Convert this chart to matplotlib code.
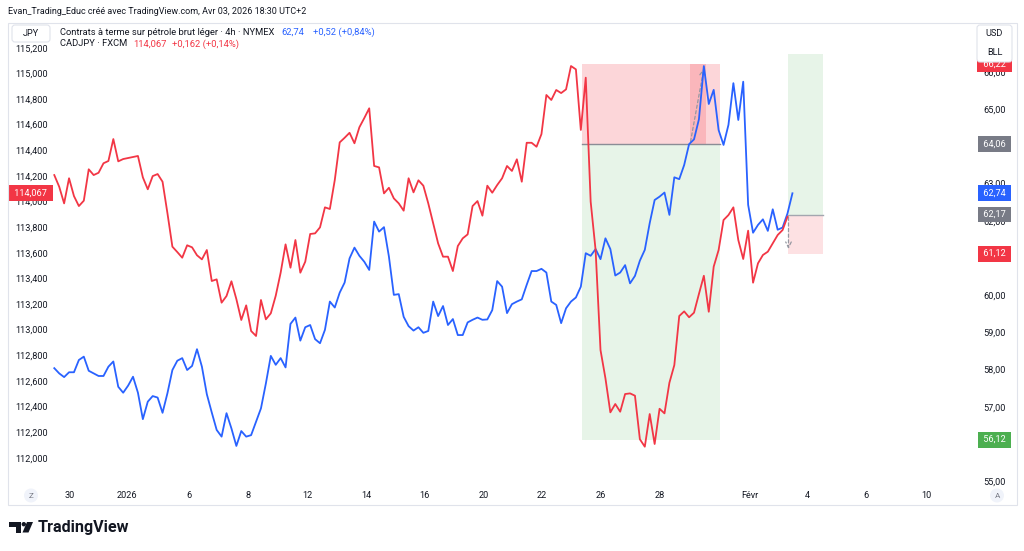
import numpy as np
import matplotlib
matplotlib.use("Agg")
import matplotlib.pyplot as plt
from matplotlib.patches import Rectangle, FancyBboxPatch, Circle, Polygon
import matplotlib.transforms as mtransforms

plt.rcParams['font.family'] = ['Roboto', 'DejaVu Sans']

# ---------------- data ----------------
# CADJPY (FXCM), 4h bars, left scale
cadjpy = [114.206, 114.115, 113.985, 114.181, 114.042, 113.964, 114.006, 114.251, 114.206, 114.224,
          114.298, 114.316, 114.487, 114.313, 114.331, 114.339, 114.347, 114.355, 114.188, 114.095,
          114.198, 114.214, 114.154, 113.907, 113.647, 113.605, 113.561, 113.658, 113.642, 113.580,
          113.548, 113.621, 113.379, 113.392, 113.210, 113.262, 113.377, 113.238, 113.075, 113.189,
          112.989, 112.950, 113.231, 113.080, 113.127, 113.264, 113.444, 113.665, 113.483, 113.699,
          113.444, 113.530, 113.746, 113.751, 113.798, 113.954, 113.941, 114.167, 114.461, 114.497,
          114.536, 114.454, 114.579, 114.651, 114.727, 114.277, 114.266, 114.063, 114.107, 114.024,
          113.985, 113.928, 114.181, 114.071, 114.165, 114.123, 113.985, 113.829, 113.673, 113.569,
          113.569, 113.457, 113.652, 113.712, 113.743, 113.964, 114.003, 113.889, 114.123, 114.068,
          114.128, 114.181, 114.277, 114.238, 114.329, 114.154, 114.458, 114.458, 114.427, 114.526,
          114.831, 114.792, 114.870, 114.846, 114.875, 115.057, 115.031, 114.558, 114.966, 113.998,
          113.621, 112.840, 112.620, 112.354, 112.419, 112.359, 112.497, 112.502, 112.484, 112.144,
          112.086, 112.341, 112.107, 112.382, 112.346, 112.585, 112.723, 113.106, 113.142, 113.096,
          113.132, 113.278, 113.420, 113.139, 113.491, 113.621, 113.855, 113.894, 113.954, 113.699,
          113.551, 113.772, 113.366, 113.517, 113.582, 113.608, 113.673, 113.738, 113.777, 113.881]

# Light crude oil futures (NYMEX), 4h bars, right scale
oil = [58.04, 57.90, 57.80, 57.93, 57.93, 58.26, 58.35, 57.97, 57.90, 57.83,
       57.83, 58.08, 58.22, 57.54, 57.38, 57.57, 57.81, 57.38, 56.67, 57.14,
       57.29, 57.25, 56.84, 57.37, 57.99, 58.24, 58.31, 57.99, 58.10, 58.55,
       58.08, 57.34, 56.85, 56.38, 56.20, 56.83, 56.42, 55.95, 56.35, 56.20,
       56.24, 56.60, 56.96, 57.63, 58.37, 58.13, 58.31, 58.06, 59.23, 59.40,
       58.78, 59.14, 59.20, 58.82, 58.71, 59.07, 59.83, 59.67, 60.07, 60.34,
       60.99, 61.28, 61.06, 60.90, 60.68, 61.98, 61.71, 61.83, 61.04, 60.01,
       60.03, 59.42, 59.17, 59.05, 59.14, 58.99, 59.04, 59.83, 59.44, 59.71,
       59.20, 59.36, 58.93, 58.93, 59.27, 59.34, 59.40, 59.34, 59.35, 59.60,
       60.38, 60.23, 59.52, 59.76, 59.83, 59.89, 60.28, 60.65, 60.65, 60.71,
       60.61, 59.83, 59.74, 59.25, 59.65, 59.83, 59.94, 60.23, 61.13, 61.06,
       61.24, 60.97, 61.53, 61.24, 60.53, 60.61, 60.81, 60.32, 60.52, 60.93,
       61.22, 61.94, 62.56, 62.65, 62.76, 62.16, 63.17, 63.12, 63.50, 64.06,
       64.19, 64.73, 66.16, 65.14, 65.52, 64.44, 64.04, 64.58, 65.70, 64.71,
       65.74, 62.43, 61.68, 61.89, 62.04, 61.73, 62.31, 61.76, 61.82, 62.20,
       62.74]

# time axis labels (bar index positions)
tick_pos = [3.2, 14.8, 27.4, 39.4, 51.4, 63.4, 75.3, 87.3, 99.1, 111.1, 123.1, 141.4, 153.0, 165.0, 177.2]
tick_lbl = ['30', '2026', '6', '8', '12', '14', '16', '20', '22', '26', '28', 'Févr', '4', '6', '10']

# price scale ticks (labels hidden behind price tags are not shown)
left_ticks = [112.0, 112.2, 112.4, 112.6, 112.8, 113.0, 113.2, 113.4, 113.6, 113.8,
              114.0, 114.2, 114.4, 114.6, 114.8, 115.0, 115.2]
right_ticks = [55, 57, 58, 59, 60, 62, 63, 65, 66]

# short position tool (oil scale): start bar, end bar / stop, entry, target
short_bars = [107.3, 135.3]
short_levels = [66.22, 64.06, 56.12]
short_fill_bars = [129.2, 132.4]
# long position tool: start bar, end bar / target, entry, stop
long_bars = [149.2, 156.3]
long_levels = [66.49, 62.17, 61.12]

# price tags on the right scale
rtag_vals = [66.22, 64.06, 62.74, 62.17, 61.12, 56.12]
rtag_cols = ['#F23645', '#787B86', '#2962FF', '#787B86', '#F23645', '#4CAF50']
ltag_val = 114.067

# legend texts
oil_name = 'Contrats à terme sur pétrole brut léger · 4h · NYMEX'
oil_change = '+0,52 (+0,84%)'
cad_name = 'CADJPY · FXCM'
cad_change = '+0,162 (+0,14%)'

RED = '#F23645'
BLUE = '#2962FF'
TXT = '#131722'
FS = 6.6
LFS = 6.75

def fr(v, d):
    return f"{v:.{d}f}".replace('.', ',')

# ---------------- figure ----------------
W, H = 1024, 551
fig = plt.figure(figsize=(W / 100, H / 100), dpi=100)
fig.patch.set_facecolor('white')

L, R, T, B = 53, 975, 24, 485
ax = fig.add_axes([L / W, (H - B) / H, (R - L) / W, (B - T) / H])
ax2 = ax.twinx()

xs_oil = np.arange(len(oil))
xs_cad = np.arange(len(cadjpy))

ax.set_xlim(-0.26, 187.1)
ax.set_ylim(54.90, 67.29)
ax2.set_ylim(111.787, 115.385)

# position tools
sx0, sx1 = short_bars
ax.add_patch(Rectangle((sx0, short_levels[1]), sx1 - sx0, short_levels[0] - short_levels[1],
                       facecolor=RED, alpha=0.2, edgecolor='none', zorder=1))
ax.add_patch(Rectangle((sx0, short_levels[2]), sx1 - sx0, short_levels[1] - short_levels[2],
                       facecolor='#4CAF50', alpha=0.13, edgecolor='none', zorder=1))
ax.add_patch(Rectangle((short_fill_bars[0], short_levels[1]), short_fill_bars[1] - short_fill_bars[0],
                       short_levels[0] - short_levels[1], facecolor=RED, alpha=0.2,
                       edgecolor='none', zorder=1.1))
ax.plot([sx0, sx1], [short_levels[1], short_levels[1]], color='#8A8D96', lw=1.0, zorder=1.5)
ax.annotate('', xy=(short_fill_bars[1] - 0.3, short_levels[0] - 0.05),
            xytext=(short_fill_bars[0], short_levels[1]),
            arrowprops=dict(arrowstyle='->', color='#9598A1', lw=0.9, ls=(0, (2.5, 2))),
            zorder=1.6)

lx0, lx1 = long_bars
ax.add_patch(Rectangle((lx0, long_levels[1]), lx1 - lx0, long_levels[0] - long_levels[1],
                       facecolor='#4CAF50', alpha=0.13, edgecolor='none', zorder=1))
ax.add_patch(Rectangle((lx0, long_levels[2]), lx1 - lx0, long_levels[1] - long_levels[2],
                       facecolor=RED, alpha=0.15, edgecolor='none', zorder=1))
ax.plot([lx0, lx1], [long_levels[1], long_levels[1]], color='#A3A6AF', lw=1.0, zorder=1.5)
ax.annotate('', xy=(lx0, long_levels[2] + 0.05), xytext=(lx0, long_levels[1]),
            arrowprops=dict(arrowstyle='->', color='#9598A1', lw=0.9, ls=(0, (2.5, 2))),
            zorder=1.6)

# series
ax.plot(xs_oil, oil, color=BLUE, lw=1.3, zorder=3, solid_joinstyle='round')
ax2.plot(xs_cad, cadjpy, color=RED, lw=1.3, zorder=3, solid_joinstyle='round')

# axes styling
for a in (ax, ax2):
    for s in a.spines.values():
        s.set_visible(False)
    a.set_facecolor('none')
ax.set_facecolor('white')

ax.yaxis.tick_right()
ax.set_yticks(right_ticks)
ax.set_yticklabels([fr(v, 2) for v in right_ticks])
ax.tick_params(axis='y', length=0, pad=6.0, labelsize=FS, labelcolor=TXT)

ax2.yaxis.tick_left()
ax2.set_yticks(left_ticks)
ax2.set_yticklabels([fr(v, 3) for v in left_ticks])
ax2.tick_params(axis='y', length=0, pad=3.8, labelsize=FS, labelcolor=TXT)

ax.set_xticks(tick_pos)
ax.set_xticklabels(tick_lbl)
ax.tick_params(axis='x', length=0, pad=4.2, labelsize=FS, labelcolor=TXT)
ax2.tick_params(axis='x', length=0, labelbottom=False)

# price tags
rtrans = mtransforms.blended_transform_factory(ax.transAxes, ax.transData)
for v, c in zip(rtag_vals, rtag_cols):
    ax.text(1.0 + 19.5 / (R - L), v, ' ' + fr(v, 2) + ' ', transform=rtrans, ha='center', va='center',
            fontsize=FS, color='white', clip_on=False, zorder=10,
            bbox=dict(boxstyle='square,pad=0.38', facecolor=c, edgecolor='none'))
ltrans = mtransforms.blended_transform_factory(ax2.transAxes, ax2.transData)
ax2.text(-22 / (R - L), ltag_val, ' ' + fr(ltag_val, 3) + ' ', transform=ltrans, ha='center',
         va='center', fontsize=FS, color='white', clip_on=False, zorder=10,
         bbox=dict(boxstyle='square,pad=0.38', facecolor=RED, edgecolor='none'))

# ---------------- overlay decorations (pixel coordinates) ----------------
ov = fig.add_axes([0, 0, 1, 1], zorder=20)
ov.set_xlim(0, W)
ov.set_ylim(H, 0)
ov.axis('off')
ov.patch.set_visible(False)

# outer frame
ov.add_patch(Rectangle((7.5, 22.5), 1009, 482, facecolor='none', edgecolor='#E0E3EB', lw=0.8))

# header
ov.text(7.5, 11, 'Evan_Trading_Educ créé avec TradingView.com, Avr 03, 2026 18:30 UTC+2',
        fontsize=6.5, color=TXT, ha='left', va='center')

# legend (values chained after each title)
def chain(prev, s, gap_px, color):
    return ov.annotate(s, xy=(1, 0.5), xycoords=prev, xytext=(gap_px * 0.72, 0),
                       textcoords='offset points', fontsize=LFS, color=color,
                       ha='left', va='center')

t1 = ov.text(60.5, 32.3, oil_name, fontsize=LFS, color=TXT, ha='left', va='center')
t1b = chain(t1, fr(oil[-1], 2), 6, BLUE)
chain(t1b, oil_change, 9, BLUE)
t2 = ov.text(60.5, 44, cad_name, fontsize=LFS, color=TXT, ha='left', va='center')
t2b = chain(t2, fr(ltag_val, 3), 5, RED)
chain(t2b, cad_change, 5.5, RED)

# currency / unit boxes
ov.add_patch(FancyBboxPatch((12, 25), 38, 17, boxstyle='round,pad=0,rounding_size=3',
                            facecolor='white', edgecolor='#E0E3EB', lw=0.8))
ov.text(31, 33.5, 'JPY', fontsize=FS, color=TXT, ha='center', va='center')
ov.add_patch(FancyBboxPatch((977, 25), 35, 37, boxstyle='round,pad=0,rounding_size=3',
                            facecolor='white', edgecolor='#E0E3EB', lw=0.8))
ov.text(994.5, 33, 'USD', fontsize=FS, color=TXT, ha='center', va='center')
ov.text(994.5, 52.5, 'BLL', fontsize=FS, color=TXT, ha='center', va='center')

# Z / A buttons
for cx, lab in ((31, 'Z'), (997, 'A')):
    ov.add_patch(Circle((cx, 495.5), 7, facecolor='#F0F3FA', edgecolor='none'))
    ov.text(cx, 495.5, lab, fontsize=5.8, color='#787B86', ha='center', va='center')

# TradingView logo
ov.add_patch(Polygon([(9, 522), (21, 522), (21, 532.5), (16, 532.5), (16, 526.5), (9, 526.5)],
                     closed=True, facecolor=TXT, edgecolor='none'))
ov.add_patch(Circle((23.8, 524.2), 2.2, facecolor=TXT, edgecolor='none'))
ov.add_patch(Polygon([(27, 522), (33, 522), (28.5, 532.5), (22.5, 532.5)],
                     closed=True, facecolor=TXT, edgecolor='none'))
ov.text(37.5, 527.5, 'TradingView', fontsize=11.6, fontweight='bold', color=TXT,
        ha='left', va='center')

fig.savefig('out.png', dpi=100, facecolor='white')
